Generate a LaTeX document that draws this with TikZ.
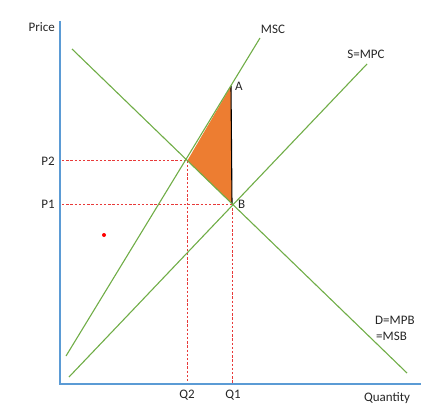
\documentclass[tikz,border=0pt]{standalone}
\usepackage{fontspec}
\setmainfont{Carlito}
\usetikzlibrary{positioning,calc}
\definecolor{axisblue}{HTML}{5B9BD5}
\definecolor{curvegreen}{HTML}{70AD47}
\definecolor{lossorange}{HTML}{ED7D31}
\definecolor{guidered}{HTML}{E83A3A}
\begin{document}
\begin{tikzpicture}[x=1pt,y=-1pt,
    curve/.style={draw=curvegreen,line width=1.1pt},
    guide/.style={draw=guidered,line width=1pt,dash pattern=on 2.4pt off 1.8pt},
    lbl/.style={font=\fontsize{13}{15}\selectfont,text=black!85,inner sep=1pt}]
        \useasboundingbox (0,0) rectangle (442,412);
        % axes
        \coordinate (o) at (60,384);
        \coordinate (ytop) at (60,21);
        \coordinate (xend) at (421,384);
        % curve end points
        \coordinate (d1) at (72,49);   \coordinate (d2) at (407,373);
        \coordinate (msc1) at (66,356); \coordinate (msc2) at (260,38);
        \coordinate (mpc1) at (69,377); \coordinate (mpc2) at (367,64);
        % points on the curves
        \coordinate (e2) at (187.4,160.6);
        \coordinate (ptA) at (231,86);
        \coordinate (ptB) at (232,204);
        \coordinate (p2ax) at (62,160.6); \coordinate (p1ax) at (62,204);
        \coordinate (q2ax) at (187.4,384); \coordinate (q1ax) at (232,384);
        % welfare loss
        \fill[lossorange] (e2) -- (ptA) -- (ptB) -- cycle;
        \draw[line width=1.1pt] (ptA) -- (ptB);
        % guides
        \draw[guide] (p2ax) -- (e2);
        \draw[guide] (e2) -- (q2ax);
        \draw[guide] (p1ax) -- (ptB);
        \draw[guide] (ptB) -- (q1ax);
        % curves
        \draw[curve] (d1) -- (d2);
        \draw[curve] (msc1) -- (msc2);
        \draw[curve] (mpc1) -- (mpc2);
        \draw[axisblue,line width=1.3pt] (ytop) -- (o) -- (xend);
        \fill[red] (104,235) circle [radius=2pt];
        % labels
        \node[lbl,anchor=east] (price) at (56,27) {Price};
        \node[lbl,anchor=east] (p2) at (56,161) {P2};
        \node[lbl,anchor=east] (p1) at (56,204) {P1};
        \node[lbl,anchor=north] (q2) at (187,389) {Q2};
        \node[lbl,anchor=north] (q1) at (233,389) {Q1};
        \node[lbl,anchor=north] (qty) at (387,391) {Quantity};
        \node[lbl] (msclbl) at (273,29) {MSC};
        \node[lbl] (mpclbl) at (366,54) {S=MPC};
        \node[lbl,anchor=west] (dlbl) at (374,320) {D=MPB};
        \node[lbl,anchor=west] (dlbl2) at (375,336) {=MSB};
        \node[lbl,anchor=south west] (albl) at (234,92) {A};
        \node[lbl,anchor=west] (blbl) at (237,204) {B};
\end{tikzpicture}
\end{document}
